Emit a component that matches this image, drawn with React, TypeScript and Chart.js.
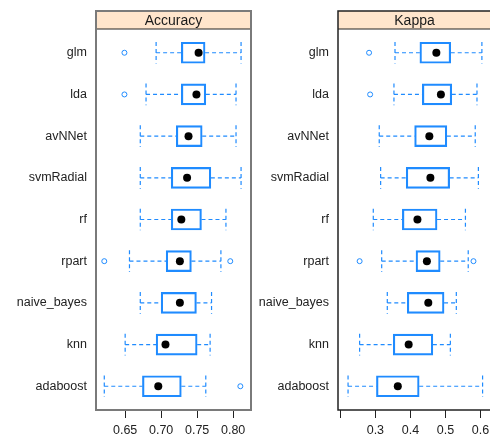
import React, { useEffect, useRef } from 'react';
import { Chart, registerables } from 'chart.js';

Chart.register(...registerables);

const categories = ['glm', 'lda', 'avNNet', 'svmRadial', 'rf', 'rpart', 'naive_bayes', 'knn', 'adaboost'];

// Accuracy
const accLow = [0.693, 0.679, 0.671, 0.671, 0.671, 0.656, 0.671, 0.650, 0.621];
const accQ1 = [0.728, 0.728, 0.721, 0.714, 0.714, 0.707, 0.700, 0.693, 0.674];
const accMed = [0.752, 0.749, 0.738, 0.736, 0.728, 0.726, 0.726, 0.706, 0.696];
const accQ3 = [0.761, 0.762, 0.757, 0.769, 0.756, 0.742, 0.749, 0.750, 0.728];
const accHigh = [0.811, 0.804, 0.804, 0.811, 0.790, 0.783, 0.770, 0.768, 0.762];
const accOutCats = ['glm', 'lda', 'rpart', 'rpart', 'adaboost'];
const accOutVals = [0.649, 0.649, 0.621, 0.796, 0.810];
const accTicks = [0.65, 0.7, 0.75, 0.8];
const accTickLabels = ['0.65', '0.70', '0.75', '0.80'];

// Kappa
const kapLow = [0.356, 0.353, 0.311, 0.315, 0.294, 0.318, 0.334, 0.255, 0.222];
const kapQ1 = [0.427, 0.434, 0.412, 0.388, 0.377, 0.416, 0.391, 0.351, 0.303];
const kapMed = [0.474, 0.487, 0.454, 0.457, 0.420, 0.447, 0.451, 0.395, 0.364];
const kapQ3 = [0.515, 0.518, 0.504, 0.512, 0.476, 0.485, 0.496, 0.464, 0.425];
const kapHigh = [0.604, 0.590, 0.585, 0.594, 0.557, 0.565, 0.531, 0.514, 0.606];
const kapOutCats = ['glm', 'lda', 'rpart', 'rpart'];
const kapOutVals = [0.282, 0.285, 0.255, 0.580];
const kapTicks = [0.2, 0.3, 0.4, 0.5, 0.6];
const kapTickLabels = ['', '0.3', '0.4', '0.5', '0.6'];

const FONT = "'Liberation Sans', Arial, Helvetica, sans-serif";
const BLUE = '#1f8bff';
const CAP = 0.26;

type Panel = {
  title: string;
  low: number[]; q1: number[]; med: number[]; q3: number[]; high: number[];
  outCats: string[]; outVals: number[];
  ticks: number[]; tickLabels: string[];
  xmin: number; xmax: number;
  yWidth: number; padRight: number;
  frameColor: string; frameWidth: number;
};

function panelPlugin(p: Panel) {
  return {
    id: 'panelFrame',
    afterDraw(chart: any) {
      const { ctx, chartArea: a } = chart;
      const hTop = 11;
      ctx.save();
      ctx.fillStyle = '#FFE5CC';
      ctx.fillRect(a.left, hTop, a.right - a.left, a.top - hTop);
      ctx.beginPath();
      ctx.moveTo(a.left, a.top);
      ctx.lineTo(a.right, a.top);
      ctx.strokeStyle = '#222';
      ctx.lineWidth = 1;
      ctx.stroke();
      ctx.strokeStyle = p.frameColor;
      ctx.lineWidth = p.frameWidth;
      ctx.strokeRect(a.left, hTop, a.right - a.left, a.bottom - hTop);
      ctx.fillStyle = '#1a1a1a';
      ctx.font = `14px ${FONT}`;
      ctx.textAlign = 'center';
      ctx.textBaseline = 'middle';
      ctx.fillText(p.title, (a.left + a.right) / 2, (hTop + a.top) / 2 + 1);
      ctx.restore();
    },
  };
}

function buildConfig(p: Panel): any {
  const whisker: any[] = [];
  const caps: any[] = [];
  categories.forEach((_, i) => {
    const y = i + 1;
    whisker.push({ x: p.low[i], y }, { x: p.q1[i], y }, { x: null, y: null },
      { x: p.q3[i], y }, { x: p.high[i], y }, { x: null, y: null });
    caps.push({ x: p.low[i], y: y - CAP }, { x: p.low[i], y: y + CAP }, { x: null, y: null },
      { x: p.high[i], y: y - CAP }, { x: p.high[i], y: y + CAP }, { x: null, y: null });
  });
  const medians = categories.map((_, i) => ({ x: p.med[i], y: i + 1 }));
  const boxes = categories.map((_, i) => ({ x: [p.q1[i], p.q3[i]], y: i + 1 }));
  const outliers = p.outCats.map((c, i) => ({ x: p.outVals[i], y: categories.indexOf(c) + 1 }));

  return {
    type: 'bar',
    data: {
      datasets: [
        {
          type: 'scatter',
          data: medians,
          pointRadius: 4,
          pointBackgroundColor: '#000',
          pointBorderWidth: 0,
          pointBorderColor: '#000',
        },
        {
          type: 'bar',
          indexAxis: 'y',
          data: boxes,
          barThickness: 21,
          backgroundColor: 'rgba(255,255,255,0)',
          borderColor: BLUE,
          borderWidth: 1.5,
          borderSkipped: false,
        },
        {
          type: 'scatter',
          data: outliers,
          pointRadius: 2.5,
          pointBackgroundColor: '#fff',
          pointBorderColor: BLUE,
          pointBorderWidth: 1,
        },
        {
          type: 'line',
          data: whisker,
          borderColor: BLUE,
          borderWidth: 1.2,
          borderDash: [4, 3],
          pointRadius: 0,
          fill: false,
          spanGaps: false,
        },
        {
          type: 'line',
          data: caps,
          borderColor: BLUE,
          borderWidth: 1.2,
          borderDash: [4, 3],
          pointRadius: 0,
          fill: false,
          spanGaps: false,
        },
      ],
    },
    options: {
      animation: false,
      responsive: false,
      events: [],
      layout: { padding: { left: 0, top: 29, right: p.padRight, bottom: 0 } },
      plugins: { legend: { display: false }, tooltip: { enabled: false }, title: { display: false } },
      scales: {
        x: {
          type: 'linear',
          position: 'bottom',
          offset: false,
          min: p.xmin,
          max: p.xmax,
          afterBuildTicks: (ax: any) => { ax.ticks = p.ticks.map((v) => ({ value: v })); },
          afterFit: (ax: any) => { ax.height = 29; },
          ticks: {
            callback: (_v: any, i: number) => p.tickLabels[i],
            autoSkip: false,
            maxRotation: 0,
            color: '#222',
            font: { family: FONT, size: 12.5 },
            padding: 5,
          },
          grid: { offset: false, drawOnChartArea: false, drawTicks: true, tickLength: 8, tickColor: '#222', lineWidth: 1 },
          border: { display: false },
        },
        y: {
          type: 'linear',
          position: 'left',
          offset: false,
          reverse: true,
          min: 0.43,
          max: 9.57,
          afterBuildTicks: (ax: any) => { ax.ticks = categories.map((_, i) => ({ value: i + 1 })); },
          afterFit: (ax: any) => { ax.width = p.yWidth; },
          ticks: {
            callback: (v: any) => categories[Math.round(Number(v)) - 1],
            autoSkip: false,
            color: '#222',
            font: { family: FONT, size: 12.5 },
            padding: 9,
          },
          grid: { offset: false, display: false, drawTicks: false },
          border: { display: false },
        },
      },
    },
    plugins: [panelPlugin(p)],
  };
}

const accPanel: Panel = {
  title: 'Accuracy',
  low: accLow, q1: accQ1, med: accMed, q3: accQ3, high: accHigh,
  outCats: accOutCats, outVals: accOutVals,
  ticks: accTicks, tickLabels: accTickLabels,
  xmin: 0.6095, xmax: 0.8248,
  yWidth: 96, padRight: 4,
  frameColor: '#7a7a7a', frameWidth: 2,
};

const kapPanel: Panel = {
  title: 'Kappa',
  low: kapLow, q1: kapQ1, med: kapMed, q3: kapQ3, high: kapHigh,
  outCats: kapOutCats, outVals: kapOutVals,
  ticks: kapTicks, tickLabels: kapTickLabels,
  xmin: 0.1933, xmax: 0.630,
  yWidth: 82, padRight: 2,
  frameColor: '#222', frameWidth: 1.5,
};

function PanelChart({ panel, left, width }: { panel: Panel; left: number; width: number }) {
  const ref = useRef<HTMLCanvasElement | null>(null);
  useEffect(() => {
    if (!ref.current) return;
    const chart = new Chart(ref.current, buildConfig(panel));
    return () => chart.destroy();
  }, [panel]);
  return (
    <canvas
      ref={ref}
      width={width}
      height={439}
      style={{ position: 'absolute', left, top: 0, width, height: 439, display: 'block' }}
    />
  );
}

export default function App() {
  return (
    <div style={{ position: 'absolute', left: 0, top: 0, width: 490, height: 439, overflow: 'hidden', background: '#fff' }}>
      <PanelChart panel={accPanel} left={0} width={256} />
      <PanelChart panel={kapPanel} left={256} width={240} />
    </div>
  );
}
